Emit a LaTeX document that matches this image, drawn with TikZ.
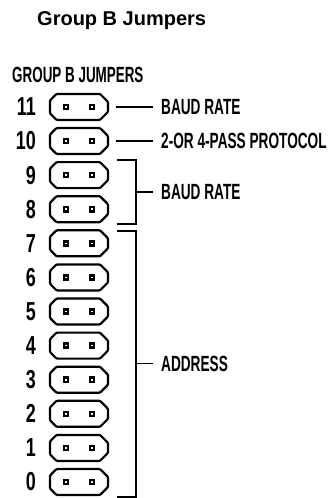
\documentclass[tikz,border=0pt]{standalone}
\usepackage{fontspec}
\usetikzlibrary{calc}
\newfontfamily\labfont[FakeStretch=0.62]{Liberation Sans}
\newfontfamily\headfont[FakeStretch=0.61]{Liberation Sans}
\newfontfamily\digfont[FakeStretch=0.69]{Liberation Sans}
\newfontfamily\titfont[FakeStretch=1.0]{Liberation Sans}
\begin{document}
\begin{tikzpicture}[x=1pt,y=-1pt,
  jumper/.style={rectangle, minimum width=61pt, minimum height=29pt, inner sep=0pt},
  jumperline/.style={line width=2.2pt, line join=round, rounded corners=1pt},
  lab/.style={font=\labfont\bfseries\fontsize{22}{22}\selectfont, inner sep=0pt, anchor=west},
  dig/.style={font=\digfont\bfseries\fontsize{26}{26}\selectfont, inner sep=0pt, anchor=east},
  conn/.style={line width=1.5pt},
  bracket/.style={line width=2pt}]
\useasboundingbox (0,0) rectangle (331,498);
\node[font=\titfont\bfseries\fontsize{20}{20}\selectfont, inner sep=0pt, anchor=base west] (title) at (37,25) {Group B Jumpers};
\node[font=\headfont\bfseries\fontsize{22}{22}\selectfont, inner sep=0pt, anchor=base west] (head) at (12,82) {GROUP B JUMPERS};
\foreach \i in {0,...,11} {
  \node[jumper] (j\i) at (79, {482-34.1*\i}) {};
  \draw[jumperline, shift={(j\i.center)}] (-29,-6.5) -- (-22.5,-13) -- (21,-13) -- (29,-5)
     -- (29,5) -- (21,13) -- (-22.5,13) -- (-29,6.5) -- cycle;
  \fill ($(j\i.center)+(-13,0)$) +(-3.3,-3.3) rectangle +(3.3,3.3);
  \fill ($(j\i.center)+(13,0)$) +(-3.3,-3.3) rectangle +(3.3,3.3);
  \fill[white] ($(j\i.center)+(-13,0)$) +(-0.8,-0.8) rectangle +(0.8,0.8);
  \fill[white] ($(j\i.center)+(13,0)$) +(-0.8,-0.8) rectangle +(0.8,0.8);
  \node[dig] (n\i) at (36, {482-34.1*\i}) {\i};
}
\coordinate (bx) at (135.5,0);
% row 11
\node[lab] (l11) at (161, {482-34.1*11}) {BAUD RATE};
\draw[conn] ([xshift=6pt]j11.east) -- ([xshift=-8pt]l11.west);
% row 10
\node[lab] (l10) at (161, {482-34.1*10}) {2-OR 4-PASS PROTOCOL};
\draw[conn] ([xshift=6pt]j10.east) -- ([xshift=-8pt]l10.west);
% rows 9-8
\coordinate (t98) at (j9.north -| bx);
\coordinate (b98) at (j8.south -| bx);
\draw[bracket] ([xshift=7pt]j9.north -| j9.east) -- (t98) -- (b98) -- ([xshift=7pt]j8.south -| j8.east);
\node[lab] (l98) at ($(t98)!0.5!(b98)+(25.5,0)$) {BAUD RATE};
\draw[conn] ($(t98)!0.5!(b98)$) -- ([xshift=-8pt]l98.west);
% rows 7-0
\coordinate (t70) at ([yshift=-2pt]j7.north -| bx);
\coordinate (b70) at (j0.south -| bx);
\draw[bracket] ([xshift=7pt,yshift=-2pt]j7.north -| j7.east) -- (t70) -- (b70) -- ([xshift=7pt]j0.south -| j0.east);
\node[lab] (l70) at ($(t70)!0.5!(b70)+(25.5,0)$) {ADDRESS};
\draw[conn] ($(t70)!0.5!(b70)$) -- ([xshift=-8pt]l70.west);
\end{tikzpicture}
\end{document}
